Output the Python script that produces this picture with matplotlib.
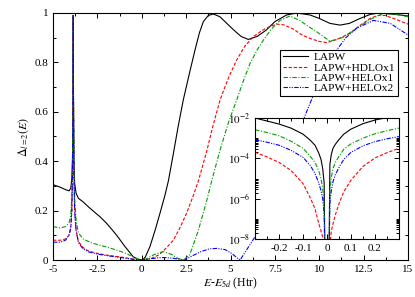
import numpy as np
import matplotlib
matplotlib.use("Agg")
from matplotlib import pyplot as plt
from matplotlib.ticker import MultipleLocator, FixedLocator, FuncFormatter, NullFormatter

plt.rcParams['font.family'] = 'serif'
plt.rcParams['font.serif'] = ['Liberation Serif', 'DejaVu Serif']
plt.rcParams['mathtext.fontset'] = 'stix'
plt.rcParams['axes.unicode_minus'] = False

labels = ["LAPW", "LAPW+HDLOx1", "LAPW+HELOx1", "LAPW+HELOx2"]

# main panel
lapw_x = [-5.0, -4.6, -4.3, -4.1, -4.0, -3.94, -3.9, -3.87, -3.86, -3.85, -3.82, -3.78, -3.7,
          -3.57, -3.3, -3.0, -2.6, -2.35, -2.0, -1.7, -1.41, -0.95, -0.48, -0.2, 0.05,
          0.2, 0.46, 0.75, 1.03, 1.3, 1.5, 1.78, 2.05, 2.34, 2.7, 3.0, 3.25, 3.47, 3.75,
          4.03, 4.4, 4.79, 5.2, 5.6, 6.0, 6.5, 7.0, 7.5, 8.16, 8.73, 9.48, 10.0, 10.6,
          11.17, 11.7, 12.3, 12.9, 13.42, 14.2, 15.0]
lapw_y = [0.305, 0.295, 0.285, 0.28, 0.29, 0.33, 0.42, 0.7, 0.99, 0.7, 0.40, 0.31, 0.27,
          0.25, 0.235, 0.215, 0.19, 0.175, 0.15, 0.125, 0.10, 0.055, 0.013, 0.003, 0.0,
          0.012, 0.054, 0.12, 0.19, 0.26, 0.32, 0.43, 0.54, 0.648, 0.76, 0.85, 0.92, 0.965, 0.99,
          0.996, 0.985, 0.958, 0.93, 0.905, 0.893, 0.905, 0.93, 0.965, 0.992, 1.0, 0.992, 0.978, 0.958,
          0.951, 0.958, 0.978, 0.995, 1.0, 0.995, 0.988]

hdlo_x = [-5.0, -4.6, -4.3, -4.1, -4.0, -3.94, -3.9, -3.87, -3.86, -3.85, -3.82, -3.78, -3.7,
          -3.57, -3.3, -3.0, -2.5, -2.0, -1.41, -1.0, -0.5, 0.0,
          0.5, 1.0, 1.4, 1.78, 2.15, 2.53, 2.9, 3.19, 3.66, 4.0, 4.41, 4.9, 5.35, 5.8, 6.28,
          6.8, 7.2, 7.6, 8.0, 8.54, 9.0, 9.48, 10.0, 10.42, 11.0, 11.73, 12.3, 12.86, 13.3,
          13.7, 14.3, 15.0]
hdlo_y = [0.08, 0.08, 0.085, 0.1, 0.13, 0.2, 0.35, 0.7, 0.99, 0.7, 0.35, 0.2, 0.12,
          0.075, 0.05, 0.036, 0.027, 0.02, 0.014, 0.01, 0.004, 0.0,
          0.005, 0.022, 0.05, 0.08, 0.13, 0.19, 0.26, 0.32, 0.44, 0.54, 0.648, 0.74, 0.81, 0.865, 0.904,
          0.93, 0.945, 0.955, 0.952, 0.935, 0.912, 0.897, 0.885, 0.88, 0.893, 0.918, 0.95, 0.978, 0.99,
          0.99, 0.975, 0.955]

helo1_x = [-5.0, -4.6, -4.3, -4.1, -4.0, -3.94, -3.9, -3.87, -3.86, -3.85, -3.82, -3.78, -3.7,
           -3.57, -3.3, -3.0, -2.73, -2.0, -1.41, -1.0, -0.48, -0.2, 0.0,
           0.3, 0.7, 1.2, 1.7, 2.0, 2.34, 2.7, 3.19, 3.66, 3.94, 4.41, 4.9, 5.35, 5.7, 6.1, 6.5,
           6.85, 7.3, 7.79, 8.35, 8.9, 9.4, 9.86, 10.6, 11.3, 12.1, 12.9, 13.6, 14.3, 15.0]
helo1_y = [0.135, 0.13, 0.135, 0.15, 0.18, 0.25, 0.4, 0.7, 0.99, 0.7, 0.4, 0.25, 0.16,
           0.11, 0.085, 0.075, 0.067, 0.053, 0.04, 0.03, 0.013, 0.003, 0.0,
           0.006, 0.022, 0.034, 0.022, 0.008, 0.0, 0.02, 0.12, 0.24, 0.32, 0.445, 0.56, 0.648, 0.72, 0.796, 0.85,
           0.89, 0.935, 0.97, 0.988, 0.97, 0.945, 0.924, 0.886, 0.9, 0.938, 0.975, 0.998, 0.995, 0.985]

helo2_x = [-5.0, -4.6, -4.3, -4.1, -4.0, -3.94, -3.9, -3.87, -3.86, -3.85, -3.82, -3.78, -3.7,
           -3.57, -3.3, -3.0, -2.5, -2.0, -1.5, -1.0, -0.5, 0.0,
           0.5, 0.9, 1.3, 1.8, 2.2, 2.4, 2.8, 3.3, 3.8, 4.22, 4.7, 5.1, 5.4, 5.54, 5.9, 6.38,
           7.0, 8.0, 9.1, 9.48, 10.2, 10.98, 11.5, 12.1, 13.05, 14.0, 15.0]
helo2_y = [0.072, 0.072, 0.08, 0.1, 0.13, 0.2, 0.35, 0.7, 0.99, 0.7, 0.35, 0.2, 0.12,
           0.07, 0.045, 0.033, 0.024, 0.018, 0.013, 0.008, 0.003, 0.0,
           0.005, 0.009, 0.01, 0.007, 0.002, 0.0, 0.015, 0.033, 0.045, 0.047, 0.042, 0.025, 0.007, 0.0, 0.04, 0.094,
           0.19, 0.37, 0.567, 0.634, 0.76, 0.85, 0.9, 0.938, 0.97, 0.958, 0.911]

# inset, log10 of Delta near E_5d
inset_x = [-0.30, -0.25, -0.20, -0.15, -0.10, -0.07, -0.05, -0.035, -0.025, -0.018, -0.012, -0.008,
           -0.004, 0.0, 0.004, 0.008, 0.012, 0.018, 0.025, 0.035, 0.05, 0.07, 0.10, 0.15, 0.20, 0.25, 0.30]
lapw_log = [-2.0, -2.15, -2.3, -2.5, -2.8, -3.1, -3.35, -3.72, -4.05, -4.5, -5.2, -9.5,
            -10, -10, -10, -9.5, -4.3, -3.8, -3.5, -3.3, -3.07, -2.8, -2.55, -2.28, -2.1, -1.98, -1.85]
hdlo_log = [-3.7, -3.93, -4.2, -4.6, -5.25, -5.95, -6.5, -7.2, -7.6, -7.9, -8.4, -9.5,
            -10, -10, -10, -9.5, -8.3, -7.6, -7.25, -6.8, -6.25, -5.65, -5.08, -4.4, -3.98, -3.72, -3.5]
helo1_log = [-2.58, -2.72, -2.88, -3.15, -3.5, -3.9, -4.2, -4.6, -5.0, -5.5, -6.3, -9.5,
             -10, -10, -10, -9.5, -5.6, -4.95, -4.5, -4.2, -3.9, -3.55, -3.28, -3.0, -2.78, -2.63, -2.5]
helo2_log = [-3.08, -3.2, -3.35, -3.6, -3.95, -4.35, -4.75, -5.2, -5.6, -6.0, -6.7, -9.5,
             -10, -10, -10, -9.5, -6.2, -5.6, -5.15, -4.8, -4.45, -4.05, -3.7, -3.38, -3.17, -3.03, -2.92]
inset_ticks = [-0.2, -0.1, 0.0, 0.1, 0.2]

colors = ["black", "red", (0.0, 0.62, 0.0), "blue"]
dashes = [(None, None), (3, 1.6), (4, 1.5, 1, 1.5), (4, 1.2, 1, 1.2, 1, 1.2)]

fig = plt.figure(figsize=(4.15, 2.97), dpi=100)
ax = fig.add_axes([53/415, 37/297, 355/415, 247/297])

series = [(lapw_x, lapw_y), (hdlo_x, hdlo_y), (helo1_x, helo1_y), (helo2_x, helo2_y)]
for (xs, ys), c, d, lab in zip(series, colors, dashes, labels):
    line, = ax.plot(xs, ys, color=c, lw=0.8, label=lab)
    if d[0] is not None:
        line.set_dashes(d)

ax.set_xlim(-5, 15)
ax.set_ylim(0, 1)
ax.xaxis.set_major_locator(MultipleLocator(2.5))
ax.xaxis.set_minor_locator(MultipleLocator(1.25))
ax.yaxis.set_major_locator(MultipleLocator(0.2))
ax.yaxis.set_minor_locator(MultipleLocator(0.1))
fmt = FuncFormatter(lambda v, p: "%g" % round(v, 4))
ax.xaxis.set_major_formatter(fmt)
ax.yaxis.set_major_formatter(fmt)
ax.tick_params(which='both', direction='in', top=True, right=True, labelsize=8, width=0.7)
ax.tick_params(which='major', length=3.5)
ax.tick_params(which='minor', length=2)
for s in ax.spines.values():
    s.set_linewidth(0.8)
ax.set_xlabel(r"$E$-$E_{5d}$ (Htr)", fontsize=8.5, labelpad=1)
ax.set_ylabel(r"$\Delta_{l=2}(E)$", fontsize=8.5, labelpad=2)

leg = ax.legend(loc='upper right', bbox_to_anchor=(0.972, 0.852), fontsize=8.2,
                fancybox=False, edgecolor='black', framealpha=1, handlelength=2.2,
                borderpad=0.25, labelspacing=0.02, handletextpad=0.5, borderaxespad=0)
leg.get_frame().set_linewidth(0.8)

# inset
ins = fig.add_axes([255/415, (297-239)/297, 144/415, 121/297])
ins.set_facecolor('white')
inset_series = [lapw_log, hdlo_log, helo1_log, helo2_log]
for lg, c, d in zip(inset_series, colors, dashes):
    line, = ins.plot(inset_x, 10.0 ** np.array(lg), color=c, lw=0.8)
    if d[0] is not None:
        line.set_dashes(d)
ins.set_yscale('log')
ins.set_xlim(-0.3, 0.3)
ins.set_ylim(1e-8, 1e-2)
ins.xaxis.set_major_locator(FixedLocator(inset_ticks))
ins.xaxis.set_minor_locator(MultipleLocator(0.05))
ins.xaxis.set_major_formatter(fmt)
ins.yaxis.set_major_locator(FixedLocator([1e-8, 1e-6, 1e-4, 1e-2]))
ins.yaxis.set_minor_locator(FixedLocator([k * 10.0 ** n for n in (-8, -6, -4) for k in range(2, 11)]))
ins.yaxis.set_minor_formatter(NullFormatter())
ins.yaxis.set_major_formatter(FuncFormatter(lambda v, p: r"$10^{%d}$" % round(np.log10(v))))
ins.tick_params(which='both', direction='in', top=True, right=True, labelsize=8, width=0.7)
ins.tick_params(which='major', length=3.5)
ins.tick_params(which='minor', length=2)
for s in ins.spines.values():
    s.set_linewidth(0.8)

fig.savefig("out.png", dpi=100)
